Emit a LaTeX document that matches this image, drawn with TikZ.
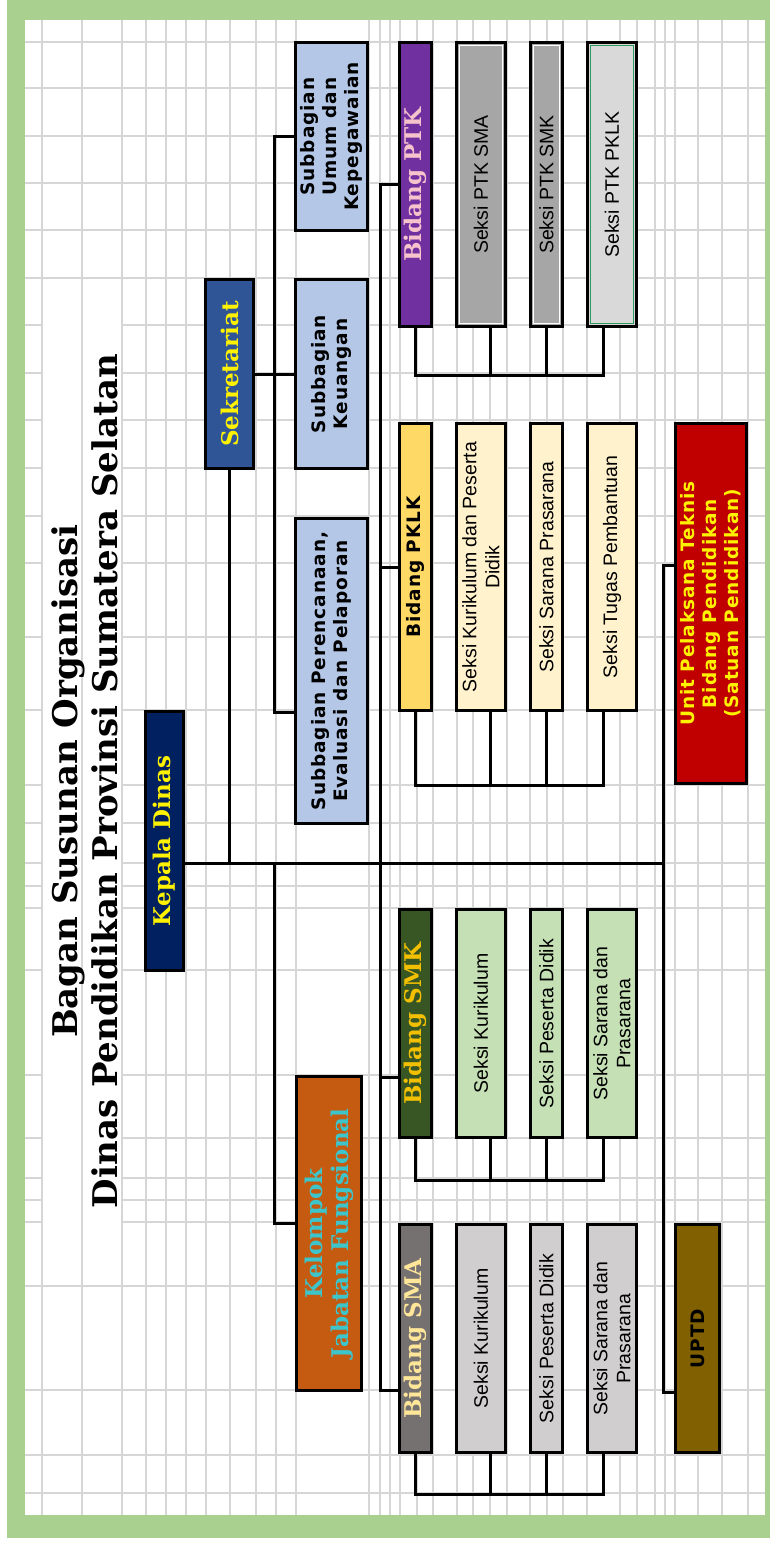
\documentclass[tikz,border=0pt]{standalone}
\usepackage{fontspec}
\setmainfont{Liberation Sans}
\newfontfamily\slabfont{DejaVu Serif}
\newfontfamily\heavysans{DejaVu Sans}[LetterSpace=5]
\usetikzlibrary{calc}

\definecolor{framegreen}{HTML}{A9D08E}
\definecolor{gridgray}{HTML}{D6D6D6}
\definecolor{kadisblue}{HTML}{002060}
\definecolor{sekrblue}{HTML}{2F5597}
\definecolor{subblue}{HTML}{B4C7E7}
\definecolor{kjforange}{HTML}{C55A11}
\definecolor{kjfcyan}{HTML}{3CC6CC}
\definecolor{ptkpurple}{HTML}{7030A0}
\definecolor{ptkpink}{HTML}{F6C2CC}
\definecolor{ptkgray}{HTML}{A6A6A6}
\definecolor{ptklight}{HTML}{D9D9D9}
\definecolor{innergreen}{HTML}{2E9A5C}
\definecolor{pklkgold}{HTML}{FFD966}
\definecolor{pklkcream}{HTML}{FFF2CC}
\definecolor{uptred}{HTML}{C00000}
\definecolor{smkgreen}{HTML}{375623}
\definecolor{smkorange}{HTML}{F2C000}
\definecolor{smklight}{HTML}{C5E0B4}
\definecolor{smagray}{HTML}{767171}
\definecolor{smacream}{HTML}{FFE699}
\definecolor{smalight}{HTML}{D0CECE}
\definecolor{uptdbrown}{HTML}{806000}

\tikzset{
  gridline/.style={draw=gridgray, line width=1.2pt},
  link/.style={line width=3pt, line join=miter},
  box/.style={draw=black, line width=3pt, rotate=90, inner sep=0pt, outer sep=0pt, align=center},
  boxsize/.style 2 args={minimum width=#1pt, minimum height=#2pt},
  serifbox/.style={box, font=\slabfont\bfseries\fontsize{23}{26}\selectfont},
  sansbox/.style={box, font=\heavysans\bfseries\fontsize{18.5}{22}\selectfont},
  seksibox/.style={box, font=\fontsize{19.5}{23}\selectfont},
  titletext/.style={rotate=90, anchor=base, font=\slabfont\bfseries\fontsize{34}{40}\selectfont}
}

\begin{document}
\begin{tikzpicture}[x=1pt, y=-1pt]
\useasboundingbox (0,0) rectangle (770,1543);
\fill[white] (0,0) rectangle (770,1543);
\fill[framegreen] (7,0) rectangle (770,1538);
\fill[white] (25,20) rectangle (765,1515);

% sheet grid (the title cells are merged)
\foreach \gx in {42,82,122,146,166,186,206,230,256,276,296,369,380,390,400,417,433,457,473,490,507,530,547,563,587,620,637,655,665,675,698,722,748}
  \draw[gridline] (\gx,20) -- (\gx,1515);
\foreach \gy in {42,88,136,183,230,278,1286,1390,1455,1493}
  \draw[gridline] (25,\gy) -- (765,\gy);
\foreach \gy in {325,373,420,468,516,563,637,710,785,823,863,886,908,970,1075,1138,1178,1200,1222}{
  \draw[gridline] (25,\gy) -- (42,\gy);
  \draw[gridline] (122,\gy) -- (765,\gy);
}

% title
\node (title1) [titletext] at (77,781) {Bagan Susunan Organisasi};
\node (title2) [titletext] at (117,781) {Dinas Pendidikan Provinsi Sumatera Selatan};

% top level
\node (kadis) [serifbox, boxsize={259}{38}, fill=kadisblue, text=yellow] at (164.5,841) {Kepala Dinas};
\node (sekr) [serifbox, boxsize={189}{48}, fill=sekrblue, text=yellow] at (229.5,374) {Sekretariat};

\node (sbumum) [sansbox, boxsize={188}{72}, fill=subblue] at (331.5,136.5) {Subbagian\\Umum dan\\Kepegawaian};
\node (sbkeu) [sansbox, boxsize={189}{72}, fill=subblue] at (331.5,374) {Subbagian\\Keuangan};
\node (sbren) [sansbox, boxsize={305}{72}, fill=subblue] at (331.5,671) {Subbagian Perencanaan,\\Evaluasi dan Pelaporan};
\node (kjf) [serifbox, boxsize={314}{65}, fill=kjforange, text=kjfcyan] at (329,1233.5) {Kelompok\\Jabatan Fungsional};

% bidang PTK
\node (bptk) [serifbox, boxsize={284}{32}, fill=ptkpurple, text=ptkpink] at (415.5,184.5) {Bidang PTK};
\node (ptk1) [seksibox, boxsize={284}{49}, fill=ptkgray] at (481,184.5) {Seksi PTK SMA};
\node (ptk2) [seksibox, boxsize={284}{32}, fill=ptkgray] at (546.5,184.5) {Seksi PTK SMK};
\node (ptk3) [seksibox, boxsize={284}{49}, fill=ptklight] at (612,184.5) {Seksi PTK PKLK};

% bidang PKLK
\node (bpklk) [sansbox, boxsize={287}{32}, fill=pklkgold] at (415.5,567) {Bidang PKLK};
\node (pklk1) [seksibox, boxsize={287}{49}, fill=pklkcream] at (481,567) {Seksi Kurikulum dan Peserta\\Didik};
\node (pklk2) [seksibox, boxsize={287}{32}, fill=pklkcream] at (546.5,567) {Seksi Sarana Prasarana};
\node (pklk3) [seksibox, boxsize={287}{49}, fill=pklkcream] at (612,567) {Seksi Tugas Pembantuan};

\node (upt) [sansbox, boxsize={360}{71}, fill=uptred, text=yellow] at (711,603.5) {Unit Pelaksana Teknis\\Bidang Pendidikan\\(Satuan Pendidikan)};

% bidang SMK
\node (bsmk) [serifbox, boxsize={228}{32}, fill=smkgreen, text=smkorange] at (415.5,1023.5) {Bidang SMK};
\node (smk1) [seksibox, boxsize={228}{49}, fill=smklight] at (481,1023.5) {Seksi Kurikulum};
\node (smk2) [seksibox, boxsize={228}{32}, fill=smklight] at (546.5,1023.5) {Seksi Peserta Didik};
\node (smk3) [seksibox, boxsize={228}{49}, fill=smklight] at (612,1023.5) {Seksi Sarana dan\\Prasarana};

% bidang SMA
\node (bsma) [serifbox, boxsize={228}{32}, fill=smagray, text=smacream] at (415.5,1338.5) {Bidang SMA};
\node (sma1) [seksibox, boxsize={228}{49}, fill=smalight] at (481,1338.5) {Seksi Kurikulum};
\node (sma2) [seksibox, boxsize={228}{32}, fill=smalight] at (546.5,1338.5) {Seksi Peserta Didik};
\node (sma3) [seksibox, boxsize={228}{49}, fill=smalight] at (612,1338.5) {Seksi Sarana dan\\Prasarana};

\node (uptd) [sansbox, boxsize={228}{44}, fill=uptdbrown] at (697.5,1338.5) {UPTD};

\foreach \n/\c in {ptk1/white,ptk2/white,ptk3/innergreen}
  \draw[\c, line width=1pt] ([shift={(3pt,-3pt)}]\n.north east) rectangle ([shift={(-3pt,3pt)}]\n.south west);

% connectors
\coordinate (mainJ) at (663,863);
\coordinate (uptJ) at (663,565);
\coordinate (uptdJ) at (663,1392);
\draw[link] (kadis.south |- mainJ) -- (mainJ);
\draw[link] (upt.north |- uptJ) -- (uptJ) -- (uptdJ) -- (uptd.north |- uptdJ);
\draw[link] (sekr.west) -- (sekr.west |- mainJ);
\draw[link] (sekr.south) -- (sbkeu.north);

\coordinate (subJ) at (274,136);
\coordinate (renJ) at (274,712);
\coordinate (kjfJ) at (274,1223);
\draw[link] (sbumum.north) -- (sbumum.north -| subJ) -- (renJ) -- (sbren.north |- renJ);
\draw[link] (mainJ -| kjfJ) -- (kjfJ) -- (kjf.north |- kjfJ);

\coordinate (bidJ) at (380,183);
\coordinate (smkJ) at (380,1077);
\coordinate (smaJ) at (380,1390);
\draw[link] (bptk.north) -- (bptk.north -| bidJ) -- (smaJ) -- (bsma.north |- smaJ);
\draw[link] (bpklk.north -| bidJ) -- (bpklk.north);
\draw[link] (smkJ) -- (bsmk.north |- smkJ);

\foreach \g/\yb in {ptk/375,pklk/785,smk/1180,sma/1494}{
  \coordinate (\g bar) at (415,\yb);
  \draw[link] (b\g.west) -- (b\g.west |- \g bar) -| ([xshift=-9pt]\g3.west);
  \draw[link] ([xshift=9pt]\g1.west) -- ([xshift=9pt]\g1.west |- \g bar);
  \draw[link] (\g2.west) -- (\g2.west |- \g bar);
}
\end{tikzpicture}
\end{document}
